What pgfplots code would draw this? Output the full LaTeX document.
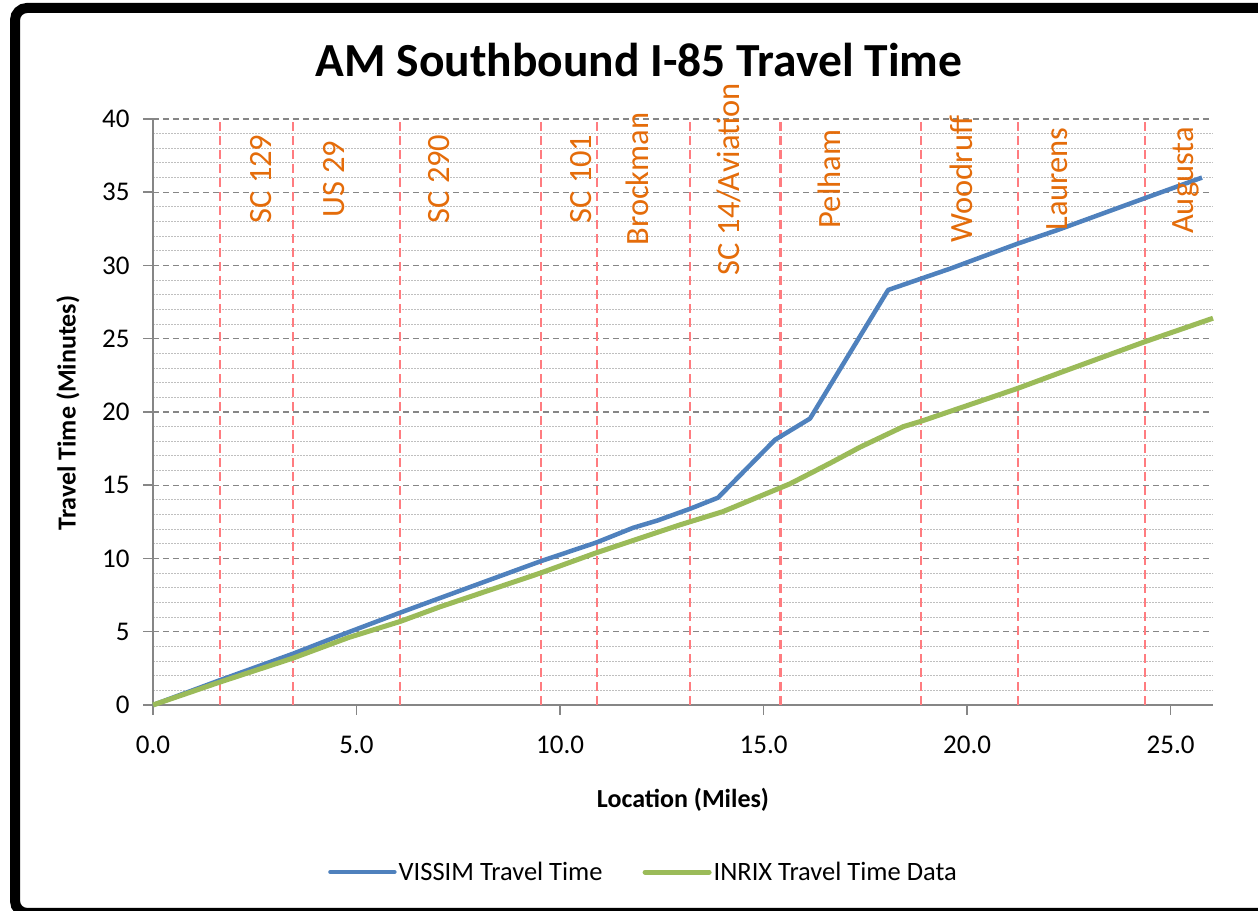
\documentclass[border=0pt]{standalone}
\usepackage{pgfplots}
\pgfplotsset{compat=1.18}
\usepackage{fontspec}
\setmainfont{Carlito}
\definecolor{vblue}{HTML}{4F81BD}
\definecolor{igreen}{HTML}{9BBB59}
\definecolor{lorange}{HTML}{E46C0A}
\definecolor{lred}{HTML}{FF7C80}
\definecolor{axgray}{HTML}{868686}
\definecolor{mingray}{HTML}{BFBFBF}
\begin{document}
\begin{tikzpicture}[x=1bp,y=1bp]
\useasboundingbox (0,0) rectangle (1258,911);
\begin{scope}
\clip (0,0) rectangle (1258,911);
\draw[line width=10bp, rounded corners=12bp] (15,-2) rectangle (1290,903);
\end{scope}
\begin{axis}[
  at={(153bp,206bp)}, anchor=south west,
  width=1060bp, height=586bp, scale only axis,
  xmin=0, xmax=26.04, ymin=0, ymax=40,
  clip=false,
  axis x line*=bottom, axis y line*=left,
  axis line style={axgray, line width=1.5bp, -},
  xtick={0,5,...,25}, ytick={0,5,...,40},
  minor y tick num=4,
  tick align=outside,
  major tick length=10bp, minor tick length=0pt,
  tick style={axgray, line width=1.5bp},
  ymajorgrids, yminorgrids,
  major grid style={axgray, line width=1.2bp, dash pattern=on 6bp off 4bp},
  minor grid style={mingray, line width=1bp, dash pattern=on 1.5bp off 1.5bp},
  /pgf/number format/assume math mode=true,
  tick label style={font=\fontsize{27bp}{30bp}\selectfont, black},
  x tick label style={/pgf/number format/fixed, /pgf/number format/fixed zerofill, /pgf/number format/precision=1, yshift=-17bp},
  y tick label style={xshift=-10bp},
  extra x ticks={1.65,3.44,6.07,9.53,10.91,13.19,15.41,18.87,21.25,24.37},
  extra x tick labels={},
  extra x tick style={grid=major, major tick length=0pt, major grid style={lred, line width=2.6bp, dash pattern=on 9bp off 5bp}},
  legend style={at={(0.4627,-0.285)}, anchor=center, draw=none, fill=none, legend columns=2,
    font=\fontsize{26.5bp}{29bp}\selectfont, nodes={inner sep=2bp},
    /tikz/every even column/.append style={column sep=38bp}},
  legend image code/.code={\draw[#1, line cap=round] (0bp,0bp) -- (64bp,0bp);},
]
\addplot[vblue, line width=4.5bp, line join=round] coordinates {
(0,0) (1.65,1.7) (3.44,3.5) (4.5,4.65) (6.07,6.3) (7.05,7.3) (8.3,8.57) (9.51,9.8)
(10.9,11.1) (11.8,12.1) (12.4,12.6) (13.2,13.4) (13.88,14.15) (15.28,18.1)
(16.14,19.55) (18.06,28.33) (19.6,29.8) (21.25,31.5) (22.2,32.4) (24.37,34.6) (25.77,36.0)
};
\addplot[igreen, line width=5bp, line join=round] coordinates {
(0,0) (1.65,1.57) (3.44,3.2) (4.8,4.6) (6.07,5.7) (7.05,6.7) (9.51,9.0) (10.9,10.4)
(12.95,12.3) (14.0,13.2) (15.65,15.1) (16.63,16.5) (17.37,17.6) (18.43,19.0)
(18.85,19.35) (21.23,21.6) (22.3,22.7) (24.37,24.8) (26.04,26.4)
};
\legend{VISSIM Travel Time, INRIX Travel Time Data}
\begin{scope}[every node/.style={rotate=90, text=lorange, font=\fontsize{32.5bp}{36bp}\selectfont, inner sep=0pt, anchor=center}]
\node at (axis cs:2.65,35.9) {SC 129};
\node at (axis cs:4.45,35.9) {US 29};
\node at (axis cs:7.03,35.9) {SC 290};
\node at (axis cs:10.52,35.9) {SC 101};
\node at (axis cs:11.89,35.9) {Brockman};
\node at (axis cs:14.15,35.9) {SC 14/Aviation};
\node at (axis cs:16.61,35.9) {Pelham};
\node at (axis cs:19.85,35.9) {Woodruff};
\node at (axis cs:22.21,35.9) {Laurens};
\node at (axis cs:25.38,35.8) {Augusta};
\end{scope}
\end{axis}
\node[anchor=base, font=\bfseries\fontsize{47.5bp}{52bp}\selectfont] at (639,834) {AM Southbound I-85 Travel Time};
\node[anchor=center, rotate=90, font=\bfseries\fontsize{26bp}{30bp}\selectfont] at (68,498) {Travel Time (Minutes)};
\node[anchor=center, font=\bfseries\fontsize{26bp}{30bp}\selectfont] at (683,111) {Location (Miles)};
\end{tikzpicture}
\end{document}
